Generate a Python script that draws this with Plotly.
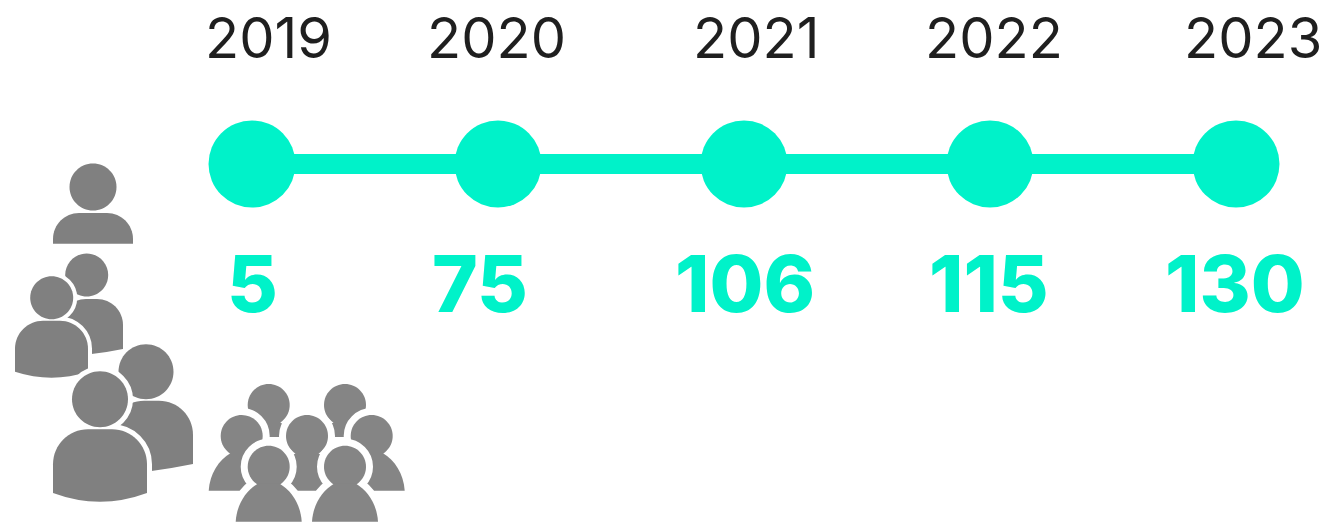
import plotly.graph_objects as go

# --- data ---
years = [2019, 2020, 2021, 2022, 2023]
employees = [5, 75, 106, 115, 130]

# --- style ---
W, H = 1330, 524
TEAL = "#00F2C9"
DARK = "#1F1F1F"
GREY = "#808080"
GREY2 = "#858585"
YEAR_XSHIFT = [16, -2, 12, 4, 17]
VALUE_XSHIFT = [0, -18, 1, -1, -1]


def px(x):
    return x / W


def py(y):
    return 1 - y / H


def P(x, y):
    return f"{px(x):.5f},{py(y):.5f}"


def circle_path(cx, cy, r):
    k = 0.5523 * r
    return (
        f"M{P(cx - r, cy)} C{P(cx - r, cy - k)} {P(cx - k, cy - r)} {P(cx, cy - r)} "
        f"C{P(cx + k, cy - r)} {P(cx + r, cy - k)} {P(cx + r, cy)} "
        f"C{P(cx + r, cy + k)} {P(cx + k, cy + r)} {P(cx, cy + r)} "
        f"C{P(cx - k, cy + r)} {P(cx - r, cy + k)} {P(cx - r, cy)} Z"
    )


def body_path(x0, x1, top, edge_l, edge_r, mid, rad):
    k = 0.5523 * rad
    xm = (x0 + x1) / 2
    return (
        f"M{P(x0, edge_l)} L{P(x0, top + rad)} "
        f"C{P(x0, top + rad - k)} {P(x0 + rad - k, top)} {P(x0 + rad, top)} "
        f"L{P(x1 - rad, top)} "
        f"C{P(x1 - rad + k, top)} {P(x1, top + rad - k)} {P(x1, top + rad)} "
        f"L{P(x1, edge_r)} "
        f"Q{P(xm, 2 * mid - (edge_l + edge_r) / 2)} {P(x0, edge_l)} Z"
    )


def pawn_body(cx, cy, bottom, half=33):
    return (
        f"M{P(cx - 11, cy + 17)} C{P(cx - 23, cy + 24)} {P(cx - half + 1, cy + 38)} {P(cx - half, bottom)} "
        f"L{P(cx + half, bottom)} "
        f"C{P(cx + half - 1, cy + 38)} {P(cx + 23, cy + 24)} {P(cx + 11, cy + 17)} Z"
    )


shapes = []


def fill(path, color=GREY):
    shapes.append(dict(type="path", xref="paper", yref="paper", path=path,
                       fillcolor=color, line=dict(width=0), layer="above"))


def halo(path, w):
    shapes.append(dict(type="path", xref="paper", yref="paper", path=path,
                       fillcolor="white", line=dict(color="white", width=w), layer="above"))


# single person
fill(circle_path(93, 187, 23.5))
fill(body_path(53, 133, 213, 243.7, 243.7, 243.7, 26))

# two people
fill(circle_path(86.7, 275, 21.5))
fill(body_path(60, 123, 299, 356, 349, 354, 26))
for p in (circle_path(51.7, 297.7, 21.5), body_path(15, 88, 320.7, 371.7, 371.7, 377.7, 28)):
    halo(p, 8)
fill(circle_path(51.7, 297.7, 21.5))
fill(body_path(15, 88, 320.7, 371.7, 371.7, 377.7, 28))

# larger pair
fill(circle_path(146, 371.7, 27.5))
fill(body_path(110, 193, 400.7, 475, 464, 471, 34))
for p in (circle_path(100, 399.3, 28), body_path(53, 147, 429.3, 493, 493, 501.7, 35)):
    halo(p, 10)
fill(circle_path(100, 399.3, 28))
fill(body_path(53, 147, 429.3, 493, 493, 501.7, 35))

# crowd
for cx in (268.7, 345):
    fill(circle_path(cx, 405, 21), GREY2)
    fill(pawn_body(cx, 405, 437, 30), GREY2)
for cx in (241.7, 307, 371.7):
    halo(circle_path(cx, 436, 21), 14)
    halo(pawn_body(cx, 436, 490.7), 14)
for cx in (241.7, 307, 371.7):
    fill(circle_path(cx, 436, 21), GREY2)
    fill(pawn_body(cx, 436, 490.7), GREY2)
for cx in (268.7, 345):
    halo(circle_path(cx, 466.7, 21), 14)
    halo(pawn_body(cx, 466.7, 521.7), 14)
for cx in (268.7, 345):
    fill(circle_path(cx, 466.7, 21), GREY2)
    fill(pawn_body(cx, 466.7, 521.7), GREY2)

fig = go.Figure(go.Scatter(
    x=years, y=[0] * len(years), mode="lines+markers",
    line=dict(color=TEAL, width=20),
    marker=dict(color=TEAL, size=87, line=dict(width=0)),
    hoverinfo="skip", cliponaxis=False,
))

annotations = []
for year, value, dx, vx in zip(years, employees, YEAR_XSHIFT, VALUE_XSHIFT):
    annotations.append(dict(x=year, y=0, xref="x", yref="y", text=str(year), showarrow=False,
                            xshift=dx, yshift=126, xanchor="center", yanchor="middle",
                            font=dict(family="Inter", size=56, color=DARK, weight=400)))
    annotations.append(dict(x=year, y=0, xref="x", yref="y", text=str(value), showarrow=False,
                            xshift=vx, yshift=-119, xanchor="center", yanchor="middle",
                            font=dict(family="Inter", size=78, color=TEAL, weight=800)))

fig.update_layout(
    width=W, height=H, margin=dict(l=0, r=0, t=0, b=0),
    paper_bgcolor="white", plot_bgcolor="white", showlegend=False,
    xaxis=dict(range=[2019 - 252 / 246, 2023 + 94 / 246], visible=False, fixedrange=True),
    yaxis=dict(range=[-(524 - 164), 164], visible=False, fixedrange=True),
    shapes=shapes, annotations=annotations,
)
fig.write_html("out.html", post_script="document.body.style.margin='0';",
               config=dict(displayModeBar=False))
